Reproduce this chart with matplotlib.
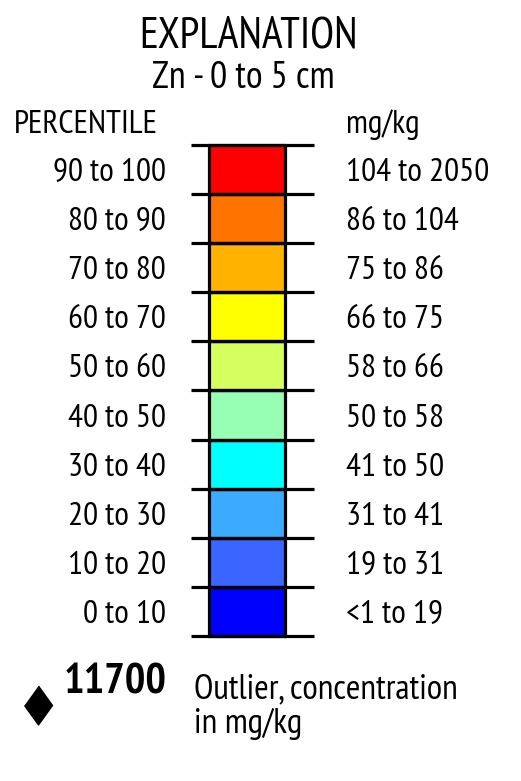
import matplotlib
matplotlib.use("Agg")
import matplotlib.pyplot as plt
from matplotlib.transforms import blended_transform_factory

title = "EXPLANATION"
subtitle = "Zn - 0 to 5 cm"
left_header = "PERCENTILE"
right_header = "mg/kg"
percentiles = ["0 to 10", "10 to 20", "20 to 30", "30 to 40", "40 to 50",
               "50 to 60", "60 to 70", "70 to 80", "80 to 90", "90 to 100"]
concentrations = ["<1 to 19", "19 to 31", "31 to 41", "41 to 50", "50 to 58",
                  "58 to 66", "66 to 75", "75 to 86", "86 to 104", "104 to 2050"]
colors = ["#0000FF", "#3C64FF", "#3CAAFF", "#00FFFF", "#96FFB4",
          "#D4FF5F", "#FFFF00", "#FFB300", "#FF7300", "#FF0000"]
outlier_value = "11700"
outlier_lines = ["Outlier, concentration", "in mg/kg"]

plt.rcParams['font.family'] = ['PT Sans Narrow', 'DejaVu Sans']

W, H = 521, 781
fig = plt.figure(figsize=(W / 100, H / 100), dpi=100)

def fx(px):
    return px / W

def fy(py):
    return 1 - py / H

top_px, bot_px = 145, 636
left_px, right_px = 208.5, 284.5
ax = fig.add_axes([fx(left_px), fy(bot_px), fx(right_px - left_px), (bot_px - top_px) / H])
n = len(colors)
bars = ax.bar([0.5] * n, [1] * n, bottom=list(range(n)), width=1.0, color=colors,
              edgecolor="black", linewidth=2.3)
for b in bars:
    b.set_clip_on(False)
ax.set_xlim(0, 1)
ax.set_ylim(0, n)
ax.axis("off")

trans = blended_transform_factory(ax.transAxes, ax.transData)
x0 = (191 - left_px) / (right_px - left_px)
x1 = (314 - left_px) / (right_px - left_px)
for b in range(n + 1):
    ax.plot([x0, x1], [b, b], color="black", lw=2.3, transform=trans,
            clip_on=False, solid_capstyle="butt")

xl = (166 - left_px) / (right_px - left_px)
xr = (346 - left_px) / (right_px - left_px)
for i in range(n):
    ax.text(xl, i + 0.5, percentiles[i], transform=trans, ha="right",
            va="center_baseline", fontsize=24)
    ax.text(xr, i + 0.5, concentrations[i], transform=trans, ha="left",
            va="center_baseline", fontsize=24)

fig.text(fx(249), fy(48), title, ha="center", va="baseline", fontsize=31.5)
fig.text(fx(243.5), fy(88.5), subtitle, ha="center", va="baseline", fontsize=27.5)
fig.text(fx(14), fy(133), left_header, ha="left", va="baseline", fontsize=24)
fig.text(fx(346), fy(133), right_header, ha="left", va="baseline", fontsize=24)

fig.text(fx(64), fy(693), outlier_value, ha="left", va="baseline",
         fontsize=31, fontweight="bold")
fig.text(fx(194), fy(698), outlier_lines[0], ha="left", va="baseline", fontsize=25.5)
fig.text(fx(194), fy(733), outlier_lines[1], ha="left", va="baseline", fontsize=25.5)

dax = fig.add_axes([0, 0, 1, 1])
dax.set_xlim(0, W)
dax.set_ylim(H, 0)
dax.axis("off")
dax.plot([37.5], [705], marker=[(0, 1), (0.72, 0), (0, -1), (-0.72, 0)],
         markersize=28, color="black", linestyle="none")

fig.savefig("out.png", dpi=100, facecolor="white")
